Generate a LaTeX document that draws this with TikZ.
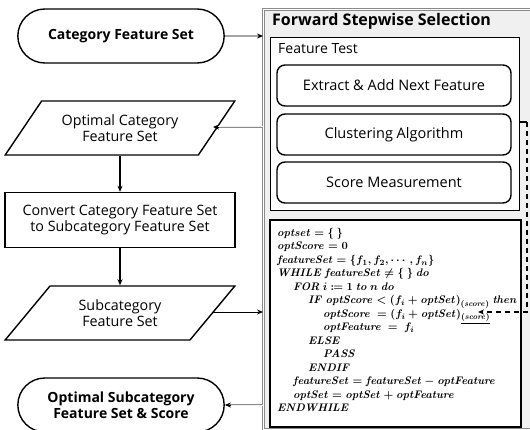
\documentclass[tikz,border=0pt]{standalone}
\usepackage{amsmath,amssymb,mathtools}
\usepackage[no-math]{fontspec}
\setmainfont{Open Sans}
\usetikzlibrary{shapes.geometric,shapes.misc,arrows.meta,positioning}
\definecolor{panelgray}{HTML}{F0F0F0}
\definecolor{framegray}{HTML}{8A8A8A}
\begin{document}
\begin{tikzpicture}[x=1pt,y=-1pt,
	term/.style={rounded rectangle,draw,line width=1.4pt,minimum width=213pt,minimum height=54pt,align=center,font=\fontsize{14}{16.5}\selectfont\bfseries},
	io/.style={trapezium,trapezium left angle=50,trapezium right angle=130,trapezium stretches=true,draw,line width=1.4pt,minimum width=230pt,minimum height=54pt,align=center,font=\fontsize{14.3}{16.5}\selectfont},
	proc/.style={rectangle,draw,line width=1.4pt,minimum width=230pt,minimum height=55pt,align=center,font=\fontsize{14.3}{16.5}\selectfont},
	testbox/.style={rectangle,draw,fill=white,rounded corners=8pt,line width=1.4pt,minimum width=234pt,minimum height=41pt,font=\fontsize{14.5}{16.5}\selectfont},
	arr/.style={-{Stealth[length=6pt,width=5pt]},line width=0.8pt},
	dbl/.style={draw=framegray,double=panelgray,double distance=1pt,line width=0.8pt,shorten >=5pt},
	tip/.style={-{Stealth[length=6pt,width=5pt]},line width=0.8pt}]
	\useasboundingbox (0,0) rectangle (530,430);
	\clip (0,0) rectangle (530,430);
	\fill[white] (0,0) rectangle (530,430);
	% left flow
	\node[term] (cfs) at (121,36) {Category Feature Set};
	\node[io] (ocfs) at (120,128) {Optimal Category\\Feature Set};
	\node[proc] (conv) at (120,220) {Convert Category Feature Set\\to Subcategory Feature Set};
	\node[io] (scfs) at (120,313) {Subcategory\\Feature Set};
	\node[term] (oscfs) at (121,405) {Optimal Subcategory\\Feature Set \& Score};
	\coordinate (ocfsin) at (213,127);
	\coordinate (scfsout) at (213,312);
	% right panel
	\node[rectangle,draw=framegray,double=white,double distance=1pt,line width=0.8pt,fill=panelgray,anchor=north west,minimum width=290pt,minimum height=420pt] (fss) at (263,9) {};
	\node[anchor=west,inner sep=0,font=\fontsize{16}{19}\selectfont\bfseries] (title) at (272,21) {Forward Stepwise Selection};
	\node[rectangle,draw,fill=white,line width=1.4pt,anchor=north west,minimum width=249pt,minimum height=173pt] (ft) at (270,37) {};
	\node[anchor=west,inner sep=0,font=\fontsize{14}{16.5}\selectfont] (ftlabel) at (278,49) {Feature Test};
	\node[testbox] (extract) at (394,85.5) {Extract \& Add Next Feature};
	\node[testbox] (clust) at (394,134.5) {Clustering Algorithm};
	\node[testbox] (score) at (394,182.5) {Score Measurement};
	\node[rectangle,draw,fill=white,line width=1.8pt,anchor=north west,minimum width=251pt,minimum height=207pt] (algo) at (269,219) {};
	\node[anchor=north west,inner sep=0,align=left,font=\fontsize{11}{13.5}\selectfont\boldmath] (code) at (277,228) {%
		$\mathit{optset} = \{\ \}$\\
		$\mathit{optScore} = 0$\\
		$\mathit{featureSet} = \{f_1, f_2, \cdots, f_n\}$\\
		$\mathit{WHILE}\ \mathit{featureSet} \neq \{\ \}\ \mathit{do}$\\
		\hspace*{16pt}$\mathit{FOR}\ i \coloneqq 1\ \mathit{to}\ n\ \mathit{do}$\\
		\hspace*{31pt}$\mathit{IF}\ \mathit{optScore} < (f_i + \mathit{optSet})_{(\mathit{score})}\ \mathit{then}$\\
		\hspace*{46pt}$\mathit{optScore}\ = (f_i + \mathit{optSet})_{\underline{(\mathit{score})}}$\\
		\hspace*{46pt}$\mathit{optFeature}\ =\ f_i$\\
		\hspace*{31pt}$\mathit{ELSE}$\\
		\hspace*{46pt}$\mathit{PASS}$\\
		\hspace*{31pt}$\mathit{ENDIF}$\\
		\hspace*{16pt}$\mathit{featureSet} = \mathit{featureSet} - \mathit{optFeature}$\\
		\hspace*{16pt}$\mathit{optSet} = \mathit{optSet} + \mathit{optFeature}$\\
		$\mathit{ENDWHILE}$};
	\coordinate (fbstart) at (519,122);
	\coordinate (fbend) at (478,312);
	% connectors
	\draw[arr] (cfs) -- (cfs -| fss.west);
	\draw[dbl] (fss.west |- ocfsin) -- (ocfsin);
	\draw[tip] ([xshift=6pt]ocfsin) -- (ocfsin);
	\draw[arr,line width=1.2pt] (ocfs.south -| conv) -- (conv);
	\draw[arr,line width=1.2pt] (conv) -- (scfs.north -| conv);
	\draw[arr] (scfsout) -- (scfsout -| fss.west);
	\draw[dbl] (fss.west |- oscfs) -- (oscfs.east);
	\draw[tip] ([xshift=6pt]oscfs.east) -- (oscfs.east);
	\draw[line width=1.4pt] (fbstart) -- ++(8,0);
	\draw[dashed,dash pattern=on 5pt off 4pt,line width=1.4pt,-{Stealth[length=6pt,width=5pt]}] ([xshift=8pt]fbstart) |- (fbend);
\end{tikzpicture}
\end{document}
